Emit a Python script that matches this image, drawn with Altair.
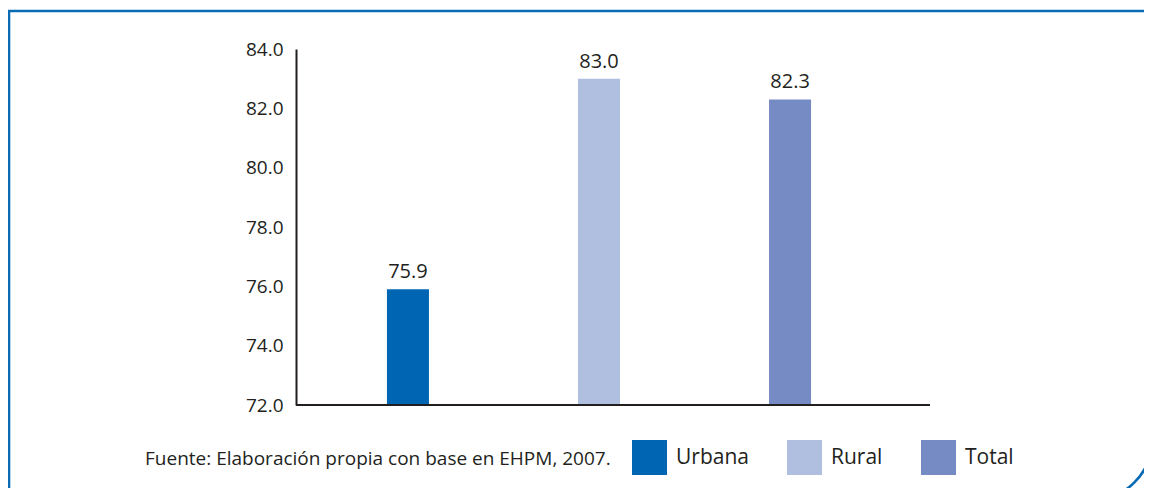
import altair as alt
import pandas as pd

categories = ["Urbana", "Rural", "Total"]
values = [75.9, 83.0, 82.3]
colors = ["#0066B3", "#B0BFDF", "#768BC3"]
y_ticks = [72, 74, 76, 78, 80, 82, 84]
source_note = "Fuente: Elaboración propia con base en EHPM, 2007."

FONT = "Open Sans"
DARK = "#231F20"
FRAME = "#0A6BB5"

df = pd.DataFrame({"cat": categories, "val": values})
one = pd.DataFrame({"k": [0]})

W, H = 634, 356

frame = alt.Chart(one).mark_rect(
    fillOpacity=0, stroke=FRAME, strokeWidth=2.6, cornerRadiusBottomRight=60
).encode(
    x=alt.value(-287), x2=alt.value(856), y=alt.value(-38), y2=alt.value(451)
)

xenc = alt.X(
    "cat:N", sort=categories, axis=None,
    scale=alt.Scale(range=[0, 606], paddingInner=0.78, paddingOuter=0.476),
)
yenc = alt.Y(
    "val:Q",
    scale=alt.Scale(domain=[72, 84], zero=False, nice=False, clamp=True),
    axis=alt.Axis(
        values=y_ticks, format=".1f", title=None, grid=False, ticks=False,
        labelFont=FONT, labelFontSize=19, labelColor=DARK, labelPadding=13,
        domainColor=DARK, domainWidth=2, domainOpacity=1,
    ),
)

bars = alt.Chart(df).mark_bar().encode(
    x=xenc,
    y=yenc,
    y2=alt.datum(72),
    color=alt.Color(
        "cat:N",
        scale=alt.Scale(domain=categories, range=colors),
        legend=alt.Legend(
            orient="none", legendX=336, legendY=391, direction="horizontal",
            title=None, symbolType="square", symbolSize=1225, symbolStrokeWidth=0,
            symbolOpacity=1, labelFont=FONT, labelFontSize=21, labelColor=DARK,
            labelOffset=9, columnPadding=38, padding=0,
        ),
    ),
)

labels = alt.Chart(df).mark_text(
    dy=-7, baseline="bottom", font=FONT, fontSize=20, color=DARK
).encode(
    x=alt.X("cat:N", sort=categories, axis=None),
    y=alt.Y("val:Q"),
    text=alt.Text("val:Q", format=".1f"),
)

baseline = alt.Chart(one).mark_rule(color=DARK, strokeWidth=2).encode(
    y=alt.datum(72), x=alt.value(0), x2=alt.value(W)
)

note = alt.Chart(pd.DataFrame({"t": [source_note]})).mark_text(
    align="left", baseline="middle", font=FONT, fontSize=19, color=DARK
).encode(x=alt.value(-151), y=alt.value(410), text="t:N")

chart = alt.layer(frame, bars, labels, baseline, note).properties(
    width=W, height=H,
    background="white",
    autosize=alt.AutoSizeParams(type="none"),
    padding={"left": 288, "top": 41, "right": 214, "bottom": 83},
).configure_view(strokeWidth=0, stroke="transparent")

chart.save("out.html", embed_options={"renderer": "svg", "actions": False})
